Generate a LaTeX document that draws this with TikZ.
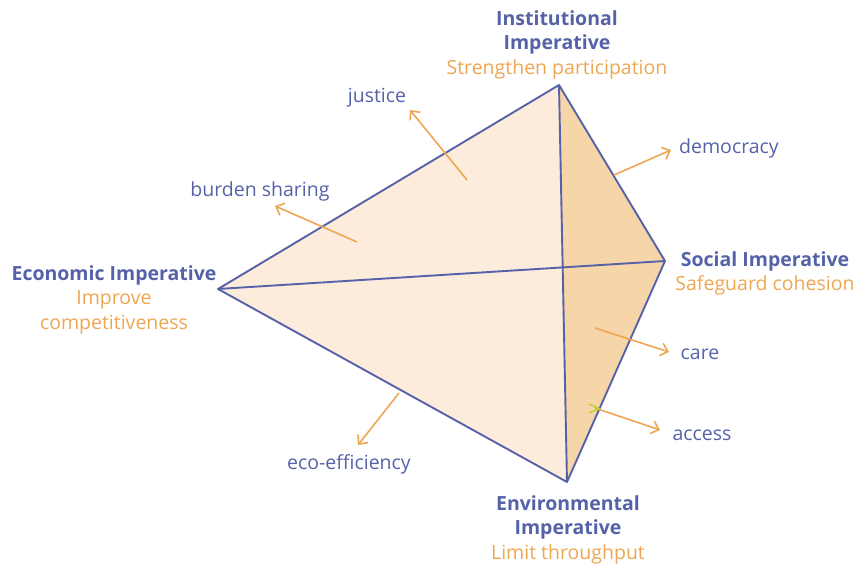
\documentclass[tikz,border=0pt]{standalone}
\usepackage{fontspec}
\setmainfont{Open Sans}
\usetikzlibrary{arrows.meta}
\definecolor{impBlue}{HTML}{5562A8}
\definecolor{impOrange}{HTML}{EDA652}
\definecolor{faceLight}{HTML}{FDECDC}
\definecolor{faceDark}{HTML}{F6D5A9}
\definecolor{tickGreen}{HTML}{B8D42A}

\begin{document}
\begin{tikzpicture}[x=1pt,y=-1pt,
  edge/.style={impBlue,line width=1.9pt,line join=round},
  pull/.style={impOrange,line width=1.6pt,-{Straight Barb[length=7pt,width=13pt]}},
  head/.style={impBlue,font=\bfseries\fontsize{19.5}{24.5}\selectfont,align=center,inner sep=0pt,anchor=north},
  value/.style={impBlue,font=\fontsize{19.5}{24}\selectfont,inner sep=0pt}]
\useasboundingbox (0,0) rectangle (855,564);
% corners of the tetrahedron
\coordinate (inst) at (559,85);
\coordinate (soc) at (665,261);
\coordinate (eco) at (218,289);
\coordinate (env) at (567,482);
\fill[faceLight] (eco)--(inst)--(soc)--(env)--cycle;
\fill[faceDark] (inst)--(soc)--(env)--cycle;
\draw[edge] (eco)--(inst)--(soc)--(env)--cycle;
\draw[edge] (eco)--(soc) (inst)--(env);
% imperatives
\node[head] (instHead) at (557,10) {Institutional\\Imperative\\\textcolor{impOrange}{\mdseries Strengthen participation}};
\node[head] (socHead) at (765,251) {Social Imperative\\\textcolor{impOrange}{\mdseries Safeguard cohesion}};
\node[head] (ecoHead) at (114,265) {Economic Imperative\\\textcolor{impOrange}{\mdseries Improve}\\\textcolor{impOrange}{\mdseries competitiveness}};
\node[head] (envHead) at (568,495) {Environmental\\Imperative\\\textcolor{impOrange}{\mdseries Limit throughput}};
% values pulling on the faces
\foreach \name/\txt/\lx/\ly/\sx/\sy/\ex/\ey in {
    justice/justice/377/97.5/467/180/410/110,
    democracy/democracy/729/148/614/175/671/150,
    burden/burden sharing/260/191/357/242/275/206,
    care/care/700/354/595/328/669/352,
    access/access/702/435/595/408/660/430,
    eco/eco-efficiency/349/464/399/393/358/445}{
  \node[value] (\name) at (\lx,\ly) {\txt};
  \coordinate (\name From) at (\sx,\sy);
  \coordinate (\name To) at (\ex,\ey);
  \draw[pull] (\name From)--(\name To);
}
\draw[tickGreen,line width=1.4pt] (589,404)--(599,408.5)--(589,413);
\end{tikzpicture}
\end{document}
